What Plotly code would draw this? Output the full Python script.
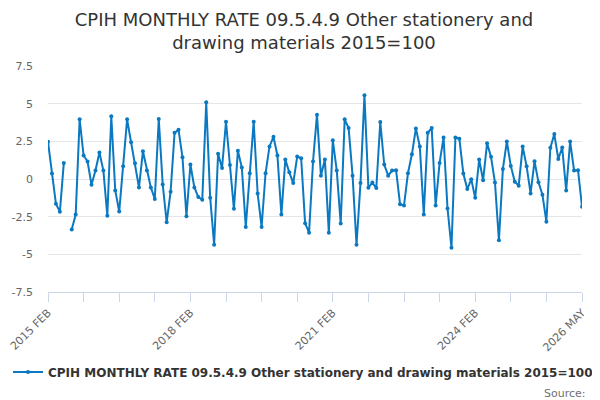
import pandas as pd
import plotly.graph_objects as go

# months Feb 2015 .. May 2026
months = pd.date_range("2015-02-01", "2026-05-01", freq="MS").strftime("%Y %b").str.upper().tolist()

# monthly rate, % (Jul 2015 missing)
rate = [
    2.47, 0.36, -1.64, -2.18, 1.07, None, -3.36, -2.36, 3.96, 1.56, 1.16,
    -0.38, 0.56, 1.76, 0.56, -2.44, 4.16, -0.76, -2.16, 0.84, 3.96, 2.44, 1.04,
    -0.56, 1.84, 0.56, -0.56, -1.33, 3.98, -0.36, -2.87, -0.84, 3.07, 3.27, 1.44,
    -2.47, 0.96, -0.56, -1.20, -1.38, 5.09, -1.24, -4.36, 1.67, 0.73, 3.80, 0.93,
    -1.98, 1.87, 0.76, -3.18, 0.38, 3.80, -0.96, -3.18, 0.38, 2.16, 2.80, 1.56,
    -2.36, 1.29, 0.44, -0.27, 1.49, 1.38, -2.93, -3.56, 1.16, 4.27, 0.22, 1.29,
    -3.56, 2.58, 0.56, -2.96, 3.96, 3.38, 0.22, -4.36, -0.27, 5.56, -0.58, -0.24,
    -0.60, 3.78, 0.96, 0.22, 0.56, 0.58, -1.67, -1.76, 0.38, 1.64, 3.36, 2.16,
    -2.36, 3.07, 3.38, -1.76, 1.07, 2.76, -1.96, -4.56, 2.76, 2.67, 0.36, -0.67,
    -0.02, -1.24, 1.29, -0.09, 2.38, 1.47, -0.24, -4.07, 0.67, 2.49, 0.87, -0.18,
    -0.44, 2.16, 0.84, -0.96, 1.18, -0.22, -1.04, -2.84, 2.07, 2.98, 1.33, 2.09,
    -0.76, 2.49, 0.56, 0.58, -1.84,
]

series_name = "CPIH MONTHLY RATE 09.5.4.9 Other stationery and drawing materials 2015=100"

y_ticks = [7.5, 5, 2.5, 0, -2.5, -5, -7.5]
y_labels = ["7.5", "5", "2.5", "0", "-2.5", "-5", "-7.5"]

# tick every 9 months, label every 36 plus the last month
tick_idx = list(range(0, len(months), 9))
tick_vals = [months[i] for i in tick_idx]
tick_text = [months[i] if (i % 36 == 0 or i == len(months) - 1) else "" for i in tick_idx]

blue = "#0a79c1"

fig = go.Figure()
fig.add_trace(go.Scatter(
    x=months, y=rate, name=series_name,
    mode="lines+markers",
    line=dict(color=blue, width=2),
    marker=dict(color=blue, size=4),
    connectgaps=False,
))

# page body has an 8px margin, so the figure is 8px smaller and everything shifted
fig.update_layout(
    width=592, height=392,
    margin=dict(l=40, r=18, t=58, b=108, autoexpand=False),
    paper_bgcolor="white", plot_bgcolor="white",
    font=dict(family="DejaVu Sans", color="#666666", size=11),
    title=dict(
        text="CPIH MONTHLY RATE 09.5.4.9 Other stationery and<br>drawing materials 2015=100",
        x=0.5, xanchor="center", y=0.954, yanchor="middle",
        font=dict(size=18, color="#333333"),
    ),
    showlegend=True,
    legend=dict(
        orientation="h", xref="container", x=-0.0304, xanchor="left",
        y=-0.354, yanchor="middle", itemwidth=30,
        font=dict(size=12, color="#333333", weight="bold"),
    ),
    annotations=[dict(
        text="Source:", xref="paper", yref="paper", x=1.011, y=-0.447,
        xanchor="right", yanchor="middle", showarrow=False,
        font=dict(size=11, color="#707070"),
    )],
)

fig.update_xaxes(
    type="category", range=[0, len(months) - 1], automargin=False,
    tickmode="array", tickvals=tick_vals, ticktext=tick_text,
    tickangle=-45, ticks="outside", ticklen=9, tickcolor="#ccd6eb",
    showline=True, linecolor="#ccd6eb", linewidth=1,
    showgrid=False, zeroline=False,
)
fig.update_yaxes(
    range=[-7.5, 7.5], tickmode="array", tickvals=y_ticks, ticktext=y_labels,
    automargin=False,
    showgrid=True, gridcolor="#e6e6e6", zeroline=False,
    ticklabelstandoff=14,
)

fig.write_html("out.html")
